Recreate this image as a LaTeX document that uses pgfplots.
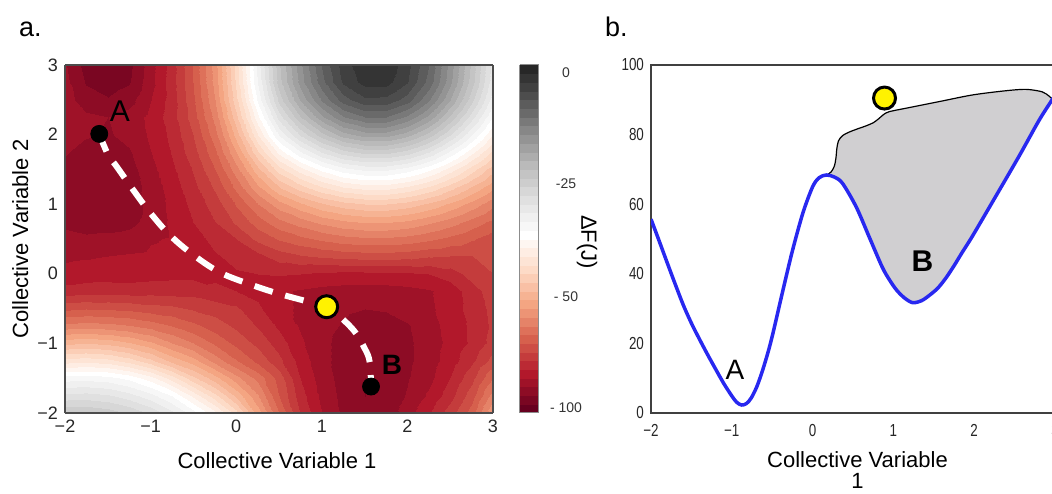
\documentclass[border=0pt]{standalone}
\usepackage{fontspec}
\setmainfont{Liberation Sans}
\usepackage{pgfplots}
\pgfplotsset{compat=1.18}
\usepackage{graphicx}
\definecolor{cvblue}{RGB}{40,40,240}
\definecolor{fillgray}{RGB}{208,207,209}
\pgfplotsset{colormap={rdgyb}{
rgb255(0cm)=(103,0,31) rgb255(1cm)=(122,6,34) rgb255(2cm)=(141,12,37) rgb255(3cm)=(159,18,40) rgb255(4cm)=(178,24,43)
rgb255(5cm)=(187,42,52) rgb255(6cm)=(196,60,60) rgb255(7cm)=(205,78,69) rgb255(8cm)=(214,96,77)
rgb255(9cm)=(222,113,90) rgb255(10cm)=(229,131,104) rgb255(11cm)=(237,148,117) rgb255(12cm)=(244,165,130)
rgb255(13cm)=(246,179,147) rgb255(14cm)=(249,192,165) rgb255(15cm)=(251,206,182) rgb255(16cm)=(253,219,199)
rgb255(17cm)=(253,228,213) rgb255(18cm)=(254,237,227) rgb255(19cm)=(254,246,241) rgb255(20cm)=(255,255,255)
rgb255(21cm)=(247,247,247) rgb255(22cm)=(240,240,240) rgb255(23cm)=(232,232,232) rgb255(24cm)=(224,224,224)
rgb255(25cm)=(215,215,215) rgb255(26cm)=(205,205,205) rgb255(27cm)=(196,196,196) rgb255(28cm)=(186,186,186)
rgb255(29cm)=(173,173,173) rgb255(30cm)=(161,161,161) rgb255(31cm)=(148,148,148) rgb255(32cm)=(135,135,135)
rgb255(33cm)=(121,121,121) rgb255(34cm)=(106,106,106) rgb255(35cm)=(92,92,92) rgb255(36cm)=(77,77,77)
rgb255(37cm)=(64,64,64) rgb255(38cm)=(52,52,52) rgb255(39cm)=(39,39,39) rgb255(40cm)=(26,26,26)}}
\begin{document}
\begin{tikzpicture}
\begin{axis}[
  at={(32.5pt,40pt)}, anchor=south west, scale only axis, width=214pt, height=174pt,
  view={0}{90}, xmin=-2, xmax=3, ymin=-2, ymax=3, zmin=0, zmax=50,
  xtick={-2,-1,0,1,2,3}, ytick={-2,-1,0,1,2,3}, ztick=\empty,
  xticklabels={−2,−1,0,1,2,3}, yticklabels={−2,−1,0,1,2,3},
  tick label style={font=\fontsize{9}{10}\selectfont, text=black!85},
  major tick length=0pt,
  axis line style={draw=black!70, line width=0.8pt},
  axis on top,
  colormap name=rdgyb, colormap access=piecewise constant,
  point meta min=0, point meta max=40,
  colorbar,
  colorbar style={at={(parent axis.north east)}, anchor=north west, xshift=4.96pt,
    scale only axis, width=9.5pt, height=174pt,
    ytick={0.6,13.4,26.4,39.1}, yticklabels={- 100,- 50,-25,0},
    yticklabel style={font=\fontsize{7}{8}\selectfont, text=black!80, anchor=center, xshift=13.5pt},
    major tick length=0pt, axis line style={draw=black!45, line width=0.5pt}},
]
\addplot3[surf, shader=interp, mesh/rows=21, mesh/cols=21, point meta=\thisrow{z}] table[row sep=\\] {
x y z\\
-2 -2 26.9\\ -1.75 -2 27.0\\ -1.5 -2 26.6\\ -1.25 -2 25.9\\ -1 -2 24.8\\ -0.75 -2 23.3\\ -0.5 -2 21.5\\ -0.25 -2 19.3\\ 0 -2 16.5\\ 0.25 -2 12.5\\ 0.5 -2 9.0\\ 0.75 -2 6.0\\ 1 -2 4.0\\ 1.25 -2 2.8\\ 1.5 -2 2.2\\ 1.75 -2 2.4\\ 2 -2 3.5\\ 2.25 -2 4.9\\ 2.5 -2 6.5\\ 2.75 -2 8.5\\ 3 -2 12.0\\
-2 -1.75 24.4\\ -1.75 -1.75 24.5\\ -1.5 -1.75 24.2\\ -1.25 -1.75 23.5\\ -1 -1.75 22.4\\ -0.75 -1.75 21.0\\ -0.5 -1.75 18.8\\ -0.25 -1.75 16.4\\ 0 -1.75 13.8\\ 0.25 -1.75 11.1\\ 0.5 -1.75 8.0\\ 0.75 -1.75 5.5\\ 1 -1.75 3.7\\ 1.25 -1.75 2.7\\ 1.5 -1.75 2.0\\ 1.75 -1.75 2.2\\ 2 -1.75 3.1\\ 2.25 -1.75 4.2\\ 2.5 -1.75 5.6\\ 2.75 -1.75 7.6\\ 3 -1.75 10.5\\
-2 -1.5 21.5\\ -1.75 -1.5 21.6\\ -1.5 -1.5 21.4\\ -1.25 -1.5 20.7\\ -1 -1.5 19.4\\ -0.75 -1.5 17.5\\ -0.5 -1.5 15.3\\ -0.25 -1.5 13.4\\ 0 -1.5 11.4\\ 0.25 -1.5 9.6\\ 0.5 -1.5 7.6\\ 0.75 -1.5 5.0\\ 1 -1.5 3.5\\ 1.25 -1.5 2.6\\ 1.5 -1.5 2.0\\ 1.75 -1.5 2.1\\ 2 -1.5 2.9\\ 2.25 -1.5 3.7\\ 2.5 -1.5 5.0\\ 2.75 -1.5 6.7\\ 3 -1.5 9.0\\
-2 -1.25 17.5\\ -1.75 -1.25 17.7\\ -1.5 -1.25 17.4\\ -1.25 -1.25 16.6\\ -1 -1.25 15.3\\ -0.75 -1.25 13.7\\ -0.5 -1.25 12.5\\ -0.25 -1.25 10.6\\ 0 -1.25 9.1\\ 0.25 -1.25 7.7\\ 0.5 -1.25 6.3\\ 0.75 -1.25 4.6\\ 1 -1.25 3.3\\ 1.25 -1.25 2.6\\ 1.5 -1.25 2.1\\ 1.75 -1.25 2.1\\ 2 -1.25 2.8\\ 2.25 -1.25 3.5\\ 2.5 -1.25 4.5\\ 2.75 -1.25 5.8\\ 3 -1.25 7.4\\
-2 -1 13.7\\ -1.75 -1 13.9\\ -1.5 -1 13.7\\ -1.25 -1 13.1\\ -1 -1 12.2\\ -0.75 -1 11.0\\ -0.5 -1 10.0\\ -0.25 -1 8.8\\ 0 -1 7.7\\ 0.25 -1 6.7\\ 0.5 -1 5.5\\ 0.75 -1 4.2\\ 1 -1 3.3\\ 1.25 -1 2.6\\ 1.5 -1 2.2\\ 1.75 -1 2.2\\ 2 -1 2.8\\ 2.25 -1 3.5\\ 2.5 -1 4.3\\ 2.75 -1 5.2\\ 3 -1 6.4\\
-2 -0.75 10.4\\ -1.75 -0.75 10.5\\ -1.5 -0.75 10.4\\ -1.25 -0.75 10.1\\ -1 -0.75 9.6\\ -0.75 -0.75 9.0\\ -0.5 -0.75 8.3\\ -0.25 -0.75 7.5\\ 0 -0.75 6.8\\ 0.25 -0.75 5.9\\ 0.5 -0.75 4.8\\ 0.75 -0.75 3.9\\ 1 -0.75 3.4\\ 1.25 -0.75 2.9\\ 1.5 -0.75 2.5\\ 1.75 -0.75 2.5\\ 2 -0.75 2.9\\ 2.25 -0.75 3.6\\ 2.5 -0.75 4.4\\ 2.75 -0.75 5.2\\ 3 -0.75 6.2\\
-2 -0.5 7.8\\ -1.75 -0.5 8.0\\ -1.5 -0.5 7.9\\ -1.25 -0.5 7.8\\ -1 -0.5 7.5\\ -0.75 -0.5 7.3\\ -0.5 -0.5 6.9\\ -0.25 -0.5 6.6\\ 0 -0.5 6.2\\ 0.25 -0.5 5.2\\ 0.5 -0.5 4.2\\ 0.75 -0.5 3.9\\ 1 -0.5 3.5\\ 1.25 -0.5 3.2\\ 1.5 -0.5 3.0\\ 1.75 -0.5 3.1\\ 2 -0.5 3.4\\ 2.25 -0.5 3.8\\ 2.5 -0.5 4.5\\ 2.75 -0.5 5.4\\ 3 -0.5 6.3\\
-2 -0.25 5.4\\ -1.75 -0.25 5.5\\ -1.5 -0.25 5.6\\ -1.25 -0.25 5.5\\ -1 -0.25 5.6\\ -0.75 -0.25 5.6\\ -0.5 -0.25 5.6\\ -0.25 -0.25 5.2\\ 0 -0.25 5.0\\ 0.25 -0.25 4.7\\ 0.5 -0.25 4.2\\ 0.75 -0.25 3.9\\ 1 -0.25 3.7\\ 1.25 -0.25 3.6\\ 1.5 -0.25 3.6\\ 1.75 -0.25 3.6\\ 2 -0.25 3.7\\ 2.25 -0.25 3.9\\ 2.5 -0.25 4.4\\ 2.75 -0.25 5.6\\ 3 -0.25 6.5\\
-2 0 4.3\\ -1.75 0 4.5\\ -1.5 0 4.5\\ -1.25 0 4.5\\ -1 0 4.6\\ -0.75 0 4.7\\ -0.5 0 4.7\\ -0.25 0 4.8\\ 0 0 4.9\\ 0.25 0 5.0\\ 0.5 0 5.1\\ 0.75 0 5.0\\ 1 0 4.8\\ 1.25 0 4.7\\ 1.5 0 4.7\\ 1.75 0 4.7\\ 2 0 4.8\\ 2.25 0 5.0\\ 2.5 0 5.5\\ 2.75 0 6.4\\ 3 0 7.0\\
-2 0.25 3.8\\ -1.75 0.25 3.9\\ -1.5 0.25 4.0\\ -1.25 0.25 4.1\\ -1 0.25 4.2\\ -0.75 0.25 4.3\\ -0.5 0.25 4.6\\ -0.25 0.25 4.9\\ 0 0.25 5.3\\ 0.25 0.25 5.7\\ 0.5 0.25 6.5\\ 0.75 0.25 6.9\\ 1 0.25 7.2\\ 1.25 0.25 7.4\\ 1.5 0.25 7.5\\ 1.75 0.25 7.5\\ 2 0.25 7.4\\ 2.25 0.25 7.1\\ 2.5 0.25 7.0\\ 2.75 0.25 7.0\\ 3 0.25 7.2\\
-2 0.5 3.4\\ -1.75 0.5 3.2\\ -1.5 0.5 3.3\\ -1.25 0.5 3.4\\ -1 0.5 3.9\\ -0.75 0.5 4.1\\ -0.5 0.5 4.6\\ -0.25 0.5 5.3\\ 0 0.5 6.0\\ 0.25 0.5 7.3\\ 0.5 0.5 8.1\\ 0.75 0.5 8.7\\ 1 0.5 9.2\\ 1.25 0.5 9.6\\ 1.5 0.5 9.8\\ 1.75 0.5 9.8\\ 2 0.5 9.6\\ 2.25 0.5 9.2\\ 2.5 0.5 8.7\\ 2.75 0.5 8.1\\ 3 0.5 7.4\\
-2 0.75 2.7\\ -1.75 0.75 2.5\\ -1.5 0.75 2.5\\ -1.25 0.75 2.7\\ -1 0.75 3.4\\ -0.75 0.75 4.2\\ -0.5 0.75 5.0\\ -0.25 0.75 6.0\\ 0 0.75 7.2\\ 0.25 0.75 8.5\\ 0.5 0.75 9.7\\ 0.75 0.75 10.5\\ 1 0.75 11.3\\ 1.25 0.75 11.8\\ 1.5 0.75 12.1\\ 1.75 0.75 12.1\\ 2 0.75 11.8\\ 2.25 0.75 11.2\\ 2.5 0.75 10.5\\ 2.75 0.75 9.6\\ 3 0.75 8.7\\
-2 1 2.5\\ -1.75 1 2.2\\ -1.5 1 2.1\\ -1.25 1 2.4\\ -1 1 3.4\\ -0.75 1 4.3\\ -0.5 1 5.3\\ -0.25 1 6.5\\ 0 1 8.1\\ 0.25 1 10.0\\ 0.5 1 11.6\\ 0.75 1 12.8\\ 1 1 13.9\\ 1.25 1 14.6\\ 1.5 1 15.0\\ 1.75 1 15.0\\ 2 1 14.6\\ 2.25 1 13.8\\ 2.5 1 12.8\\ 2.75 1 11.6\\ 3 1 10.3\\
-2 1.25 2.6\\ -1.75 1.25 2.2\\ -1.5 1.25 2.2\\ -1.25 1.25 2.5\\ -1 1.25 3.4\\ -0.75 1.25 4.5\\ -0.5 1.25 5.7\\ -0.25 1.25 7.2\\ 0 1.25 9.3\\ 0.25 1.25 11.8\\ 0.5 1.25 14.0\\ 0.75 1.25 15.6\\ 1 1.25 17.0\\ 1.25 1.25 18.0\\ 1.5 1.25 18.5\\ 1.75 1.25 18.5\\ 2 1.25 17.9\\ 2.25 1.25 16.9\\ 2.5 1.25 15.5\\ 2.75 1.25 13.9\\ 3 1.25 12.3\\
-2 1.5 2.7\\ -1.75 1.5 2.3\\ -1.5 1.5 2.3\\ -1.25 1.5 2.6\\ -1 1.5 3.7\\ -0.75 1.5 4.8\\ -0.5 1.5 6.1\\ -0.25 1.5 8.0\\ 0 1.5 10.6\\ 0.25 1.5 13.8\\ 0.5 1.5 16.6\\ 0.75 1.5 18.6\\ 1 1.5 20.4\\ 1.25 1.5 21.7\\ 1.5 1.5 22.3\\ 1.75 1.5 22.3\\ 2 1.5 21.6\\ 2.25 1.5 20.3\\ 2.5 1.5 18.6\\ 2.75 1.5 16.5\\ 3 1.5 14.4\\
-2 1.75 3.1\\ -1.75 1.75 2.6\\ -1.5 1.75 2.5\\ -1.25 1.75 2.9\\ -1 1.75 4.0\\ -0.75 1.75 5.1\\ -0.5 1.75 6.6\\ -0.25 1.75 8.8\\ 0 1.75 12.0\\ 0.25 1.75 15.9\\ 0.5 1.75 19.4\\ 0.75 1.75 21.9\\ 1 1.75 24.1\\ 1.25 1.75 25.6\\ 1.5 1.75 26.4\\ 1.75 1.75 26.4\\ 2 1.75 25.6\\ 2.25 1.75 24.0\\ 2.5 1.75 21.8\\ 2.75 1.75 19.3\\ 3 1.75 16.7\\
-2 2 3.6\\ -1.75 2 3.1\\ -1.5 2 2.9\\ -1.25 2 3.3\\ -1 2 4.2\\ -0.75 2 5.3\\ -0.5 2 7.0\\ -0.25 2 9.6\\ 0 2 13.4\\ 0.25 2 18.0\\ 0.5 2 22.1\\ 0.75 2 25.1\\ 1 2 27.6\\ 1.25 2 29.5\\ 1.5 2 30.4\\ 1.75 2 30.4\\ 2 2 29.4\\ 2.25 2 27.5\\ 2.5 2 25.0\\ 2.75 2 22.0\\ 3 2 18.9\\
-2 2.25 3.6\\ -1.75 2.25 3.2\\ -1.5 2.25 3.0\\ -1.25 2.25 3.4\\ -1 2.25 4.3\\ -0.75 2.25 5.6\\ -0.5 2.25 7.5\\ -0.25 2.25 10.4\\ 0 2.25 14.7\\ 0.25 2.25 19.8\\ 0.5 2.25 24.5\\ 0.75 2.25 27.9\\ 1 2.25 30.8\\ 1.25 2.25 32.9\\ 1.5 2.25 34.0\\ 1.75 2.25 34.0\\ 2 2.25 32.8\\ 2.25 2.25 30.7\\ 2.5 2.25 27.8\\ 2.75 2.25 24.4\\ 3 2.25 20.9\\
-2 2.5 3.4\\ -1.75 2.5 2.5\\ -1.5 2.5 2.1\\ -1.25 2.5 2.6\\ -1 2.5 4.0\\ -0.75 2.5 5.5\\ -0.5 2.5 7.8\\ -0.25 2.5 11.0\\ 0 2.5 15.7\\ 0.25 2.5 21.3\\ 0.5 2.5 26.4\\ 0.75 2.5 30.1\\ 1 2.5 33.2\\ 1.25 2.5 35.5\\ 1.5 2.5 36.8\\ 1.75 2.5 36.7\\ 2 2.5 35.5\\ 2.25 2.5 33.1\\ 2.5 2.5 30.0\\ 2.75 2.5 26.3\\ 3 2.5 22.4\\
-2 2.75 3.3\\ -1.75 2.75 1.9\\ -1.5 2.75 1.5\\ -1.25 2.75 1.9\\ -1 2.75 3.7\\ -0.75 2.75 5.6\\ -0.5 2.75 8.0\\ -0.25 2.75 11.4\\ 0 2.75 16.2\\ 0.25 2.75 22.2\\ 0.5 2.75 27.6\\ 0.75 2.75 31.4\\ 1 2.75 34.7\\ 1.25 2.75 37.2\\ 1.5 2.75 38.4\\ 1.75 2.75 38.4\\ 2 2.75 37.1\\ 2.25 2.75 34.6\\ 2.5 2.75 31.3\\ 2.75 2.75 27.4\\ 3 2.75 23.3\\
-2 3 3.1\\ -1.75 3 1.6\\ -1.5 3 1.4\\ -1.25 3 1.7\\ -1 3 3.6\\ -0.75 3 5.5\\ -0.5 3 8.1\\ -0.25 3 11.5\\ 0 3 16.4\\ 0.25 3 22.4\\ 0.5 3 27.8\\ 0.75 3 31.7\\ 1 3 35.1\\ 1.25 3 37.5\\ 1.5 3 38.8\\ 1.75 3 38.8\\ 2 3 37.4\\ 2.25 3 35.0\\ 2.5 3 31.6\\ 2.75 3 27.7\\ 3 3 23.5\\
};
\addplot3[white, line width=3pt, dash pattern=on 9.5pt off 6.5pt, smooth, tension=0.6] coordinates {
(-1.6,2.01,45) (-1.5,1.72,45) (-1.39,1.53,45) (-1.2,1.2,45) (-1.0,0.87,45) (-0.77,0.55,45) (-0.5,0.27,45) (-0.19,0.02,45) (0.16,-0.15,45) (0.48,-0.28,45) (0.84,-0.4,45) (1.057,-0.473,45) (1.35,-0.78,45) (1.5,-1.07,45) (1.56,-1.27,45) (1.575,-1.62,45)};
\addplot3[only marks, mark=*, mark size=4.25pt, black] coordinates {(-1.6,2.01,46) (1.575,-1.62,46)};
\addplot3[only marks, mark=*, mark size=5.5pt, mark options={fill=yellow, draw=black, line width=1.5pt}] coordinates {(1.057,-0.473,47)};
\node[font=\fontsize{15}{15}\selectfont] at (axis cs:-1.36,2.34,48) {A};
\node[font=\bfseries\fontsize{14}{14}\selectfont] at (axis cs:1.82,-1.31,48) {B};
\end{axis}
\begin{axis}[
  at={(325.5pt,40pt)}, anchor=south west, scale only axis, width=202pt, height=174pt,
  xmin=-2, xmax=3, ymin=0, ymax=100,
  xtick={-2,-1,0,1,2,3}, ytick={0,20,40,60,80,100},
  xticklabels={\scalebox{0.77}[1]{−2},\scalebox{0.77}[1]{−1},\scalebox{0.77}[1]{0},\scalebox{0.77}[1]{1},\scalebox{0.77}[1]{2},\scalebox{0.77}[1]{3}},
  yticklabels={\scalebox{0.77}[1]{0},\scalebox{0.77}[1]{20},\scalebox{0.77}[1]{40},\scalebox{0.77}[1]{60},\scalebox{0.77}[1]{80},\scalebox{0.77}[1]{100}},
  tick label style={font=\fontsize{8.7}{10}\selectfont, text=black!85},
  xticklabel style={yshift=-2pt},
  major tick length=0pt,
  axis line style={draw=black!75, line width=0.75pt},
]
\addplot[fill=fillgray, draw=none] coordinates {
(0.177,68.4) (0.23,69.3) (0.27,71.0) (0.29,73.5) (0.30,76.0) (0.32,78.2) (0.37,79.7) (0.45,80.7) (0.55,81.6) (0.66,82.5) (0.75,83.4) (0.82,84.6) (0.88,85.8) (0.95,86.6) (1.16,87.6) (1.57,89.5) (1.98,91.4) (2.39,92.6) (2.64,93.0) (2.84,92.3) (2.93,91.0) (2.97,90.1)
(2.95,89.5) (2.8,84.0) (2.56,74.0) (2.27,62.4) (1.98,50.9) (1.85,46.1) (1.75,42.3) (1.65,38.8) (1.55,35.9) (1.45,33.9) (1.35,32.3) (1.24,31.7) (1.14,33.0) (1.04,35.3) (0.95,38.3) (0.86,42) (0.70,50.6) (0.54,59.2) (0.37,66) (0.27,67.8)} -- cycle;
\addplot[black, line width=0.6pt, smooth, tension=0.5] coordinates {
(0.177,68.4) (0.23,69.3) (0.27,71.0) (0.29,73.5) (0.30,76.0) (0.32,78.2) (0.37,79.7) (0.45,80.7) (0.55,81.6) (0.66,82.5) (0.75,83.4) (0.82,84.6) (0.88,85.8) (0.95,86.6) (1.16,87.6) (1.57,89.5) (1.98,91.4) (2.39,92.6) (2.64,93.0) (2.84,92.3) (2.93,91.0) (2.97,90.1)};
\addplot[cvblue, line width=1.75pt, smooth, tension=0.5] coordinates {
(-2,55.7) (-1.9,49.5) (-1.8,43.2) (-1.7,37.0) (-1.6,31.0) (-1.5,25.8) (-1.4,21.2) (-1.3,16.8) (-1.2,12.6) (-1.1,8.5) (-1.0,4.9) (-0.94,3.1) (-0.88,2.3) (-0.82,2.7) (-0.76,4.3) (-0.69,7.6) (-0.62,12.2) (-0.55,17.6) (-0.49,23) (-0.37,35) (-0.25,46.6) (-0.12,57.5) (0,65) (0.08,67.6) (0.17,68.4) (0.27,67.8) (0.37,66) (0.54,59.2) (0.70,50.6) (0.86,42) (0.95,38.3) (1.04,35.3) (1.14,33.0) (1.24,31.7) (1.35,32.3) (1.45,33.9) (1.55,35.9) (1.65,38.8) (1.75,42.3) (1.85,46.1) (1.98,50.9) (2.27,62.4) (2.56,74.0) (2.8,84.0) (2.95,89.5) (3,91.3)};
\addplot[only marks, mark=*, mark size=5.5pt, mark options={fill=yellow, draw=black, line width=1.5pt}] coordinates {(0.89,90.5)};
\node[font=\fontsize{14}{14}\selectfont] at (axis cs:-0.96,12.4) {A};
\node[font=\bfseries\fontsize{15}{15}\selectfont] at (axis cs:1.36,43.7) {B};
\end{axis}
\node[anchor=base west, font=\fontsize{13.5}{14}\selectfont] at (6pt,228pt) {a.};
\node[anchor=base west, font=\fontsize{13.5}{14}\selectfont] at (299pt,228pt) {b.};
\node[anchor=base, font=\fontsize{11}{12}\selectfont] at (138.5pt,12.5pt) {Collective Variable 1};
\node[anchor=base, rotate=90, font=\fontsize{11}{12}\selectfont] at (14pt,127pt) {Collective Variable 2};
\node[rotate=-90, font=\fontsize{11}{12}\selectfont] at (293.5pt,125.5pt) {ΔF(J)};
\node[anchor=base, font=\fontsize{11}{12}\selectfont] at (428.75pt,13pt) {Collective Variable};
\node[anchor=base, font=\fontsize{11}{12}\selectfont] at (428.75pt,2.2pt) {1};
\pgfresetboundingbox
\path[use as bounding box] (0,0) rectangle (526pt,246.5pt);
\end{tikzpicture}
\end{document}
